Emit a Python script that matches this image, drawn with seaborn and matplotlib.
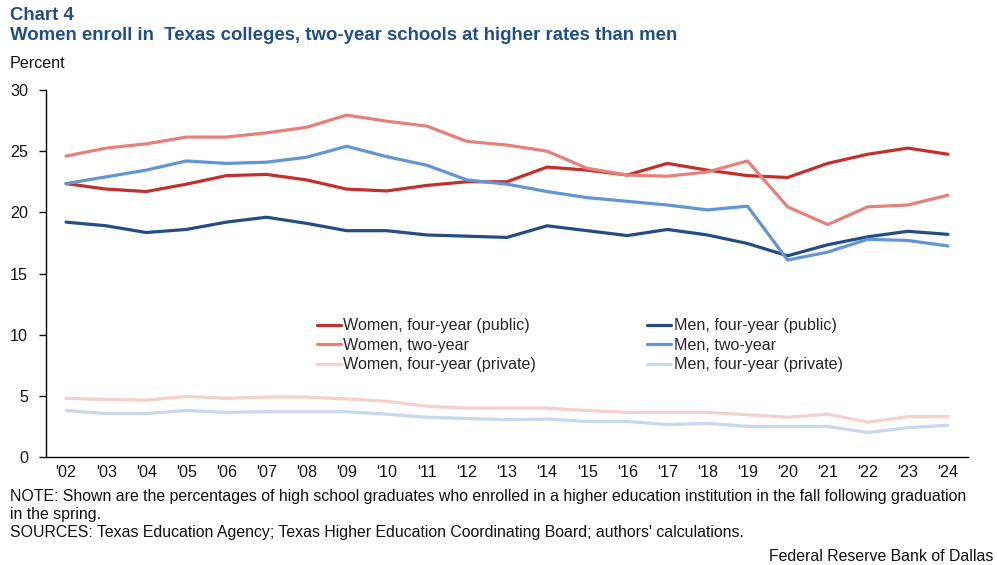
import matplotlib
matplotlib.use("Agg")
import matplotlib.pyplot as plt
import pandas as pd
import seaborn as sns

years = ["'02", "'03", "'04", "'05", "'06", "'07", "'08", "'09", "'10", "'11", "'12", "'13",
         "'14", "'15", "'16", "'17", "'18", "'19", "'20", "'21", "'22", "'23", "'24"]

women_public = [22.35, 21.9, 21.7, 22.3, 23.0, 23.1, 22.65, 21.9, 21.75, 22.2, 22.5, 22.5,
                23.7, 23.45, 23.05, 24.0, 23.45, 23.0, 22.85, 24.0, 24.75, 25.25, 24.75]
women_two = [24.6, 25.25, 25.6, 26.15, 26.15, 26.5, 26.95, 27.95, 27.45, 27.05, 25.8, 25.5,
             25.0, 23.6, 23.05, 22.95, 23.3, 24.2, 20.45, 19.0, 20.45, 20.6, 21.4]
women_private = [4.8, 4.7, 4.65, 4.95, 4.8, 4.9, 4.9, 4.75, 4.55, 4.15, 4.0, 4.0,
                 4.0, 3.8, 3.65, 3.65, 3.65, 3.45, 3.25, 3.5, 2.85, 3.3, 3.3]
men_public = [19.2, 18.9, 18.35, 18.6, 19.2, 19.6, 19.1, 18.5, 18.5, 18.15, 18.05, 17.95,
              18.9, 18.5, 18.1, 18.6, 18.15, 17.45, 16.45, 17.35, 18.0, 18.45, 18.2]
men_two = [22.35, 22.9, 23.45, 24.2, 24.0, 24.1, 24.5, 25.4, 24.55, 23.85, 22.65, 22.3,
           21.7, 21.2, 20.9, 20.6, 20.2, 20.5, 16.1, 16.75, 17.8, 17.7, 17.25]
men_private = [3.8, 3.55, 3.55, 3.8, 3.65, 3.7, 3.7, 3.7, 3.5, 3.25, 3.15, 3.05,
               3.1, 2.9, 2.9, 2.65, 2.75, 2.5, 2.5, 2.5, 2.0, 2.4, 2.6]

series_names = ["Women, four-year (public)", "Women, two-year", "Women, four-year (private)",
                "Men, four-year (public)", "Men, two-year", "Men, four-year (private)"]
series_values = [women_public, women_two, women_private, men_public, men_two, men_private]
colors = ["#C3302B", "#E5807A", "#F6D0CD", "#254D84", "#6196D2", "#C8D8EE"]

rows = []
for name, vals in zip(series_names, series_values):
    for i, v in enumerate(vals):
        rows.append({"year": i, "value": v, "series": name})
df = pd.DataFrame(rows)

sns.set_style("white")
plt.rcParams["font.family"] = ["Liberation Sans", "DejaVu Sans"]

fig = plt.figure(figsize=(9.97, 5.65), dpi=100)
ax = fig.add_axes([46 / 997, 1 - 457 / 565, 922 / 997, 367 / 565])

sns.lineplot(data=df, x="year", y="value", hue="series", hue_order=series_names,
             palette=colors, linewidth=2.3, ax=ax)

ax.set_xlim(-0.5, len(years) - 0.5)
ax.set_ylim(0, 30)
ax.set_yticks([0, 5, 10, 15, 20, 25, 30])
ax.set_xticks(range(len(years)))
ax.set_xticklabels(years)
ax.set_xticks([i - 0.5 for i in range(len(years) + 1)], minor=True)
ax.tick_params(axis="x", which="major", length=0, labelsize=11.6, pad=6, colors="#111111")
ax.tick_params(axis="x", which="minor", length=5, width=1, direction="out", color="black")
ax.tick_params(axis="y", length=5, width=1, direction="out", labelsize=11.6, pad=8,
               colors="#111111", left=True)
ax.set_xlabel("")
ax.set_ylabel("")
for s in ["top", "right"]:
    ax.spines[s].set_visible(False)
for s in ["left", "bottom"]:
    ax.spines[s].set_color("black")
    ax.spines[s].set_linewidth(1)

leg = ax.legend(ncol=2, frameon=False, loc="upper left", bbox_to_anchor=(0.2865, 0.395),
                fontsize=11.6, handlelength=1.5, handletextpad=0.15, columnspacing=6.9,
                labelspacing=0.27, borderaxespad=0)
for line in leg.get_lines():
    line.set_linewidth(2.3)

title_color = "#1F4E8A"
fig.text(10 / 997, 1 - 7 / 565, "Chart 4", fontsize=13.4, fontweight="bold",
         color=title_color, va="top")
fig.text(10 / 997, 1 - 27 / 565, "Women enroll in  Texas colleges, two-year schools at higher rates than men",
         fontsize=13.4, fontweight="bold", color=title_color, va="top")
fig.text(10 / 997, 1 - 56 / 565, "Percent", fontsize=11.6, va="top", color="#111111")

fig.text(10 / 997, 1 - 489 / 565,
         "NOTE: Shown are the percentages of high school graduates who enrolled in a higher education institution in the fall following graduation",
         fontsize=11.4, va="top", color="#111111")
fig.text(10 / 997, 1 - 507 / 565, "in the spring.", fontsize=11.4, va="top", color="#111111")
fig.text(10 / 997, 1 - 525 / 565,
         "SOURCES: Texas Education Agency; Texas Higher Education Coordinating Board; authors' calculations.",
         fontsize=11.4, va="top", color="#111111")
fig.text(993 / 997, 1 - 549 / 565, "Federal Reserve Bank of Dallas", fontsize=11.4,
         va="top", ha="right", color="#111111")

fig.savefig("out.png", dpi=100)
